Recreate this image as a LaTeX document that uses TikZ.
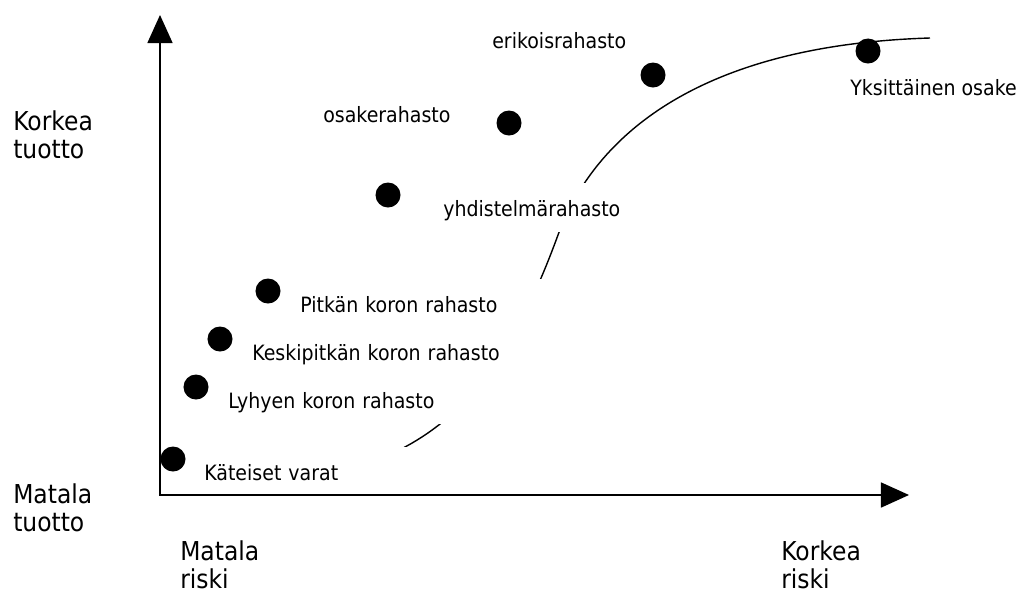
\documentclass[tikz,border=0pt]{standalone}
\usepackage{fontspec}
\setmainfont[FakeStretch=0.9]{DejaVu Sans}
\usetikzlibrary{arrows.meta}
\newcommand{\notefont}{\fontsize{15}{18}\selectfont}
\newcommand{\axisfont}{\fontsize{18.5}{19.9}\selectfont}

\begin{document}
\begin{tikzpicture}[
    x=0.025cm, y=-0.025cm,
    fund/.style={circle, fill=black, minimum size=0.625cm, inner sep=0},
    note/.style={font=\notefont, inner sep=0, anchor=base west},
    notebox/.style={note, fill=white, inner xsep=0.25cm, text height=0.825cm, text depth=0.4cm, align=left},
    axistext/.style={font=\axisfont, inner sep=0, anchor=west, align=left},
    axisline/.style={line width=1.1pt, {Triangle[length=0.7cm, width=0.625cm]}-{Triangle[length=0.7cm, width=0.625cm]}},
    trend/.style={line width=1pt}
  ]
  \useasboundingbox (0,0) rectangle (1022,593);

  \coordinate (origin) at (160,495);
  \coordinate (ytop) at (160,15);
  \coordinate (xend) at (909,495);
  \draw[axisline] (ytop) -- (origin) -- (xend);

  \coordinate (c0) at (388,457);
  \coordinate (c1) at (405,447);
  \coordinate (c2) at (558,235);
  \coordinate (c3) at (930,38);
  \draw[trend] (c0) -- (c1) .. controls (470,412) and (516,350) .. (c2)
    .. controls (595,135) and (700,45) .. (c3);

  \node[notebox, text width=5.275cm, text depth=0.35cm] (cashtext) at (194,480) {Käteiset varat};
  \node[notebox, text width=6.3cm] (shorttext) at (218,408) {Lyhyen koron rahasto};
  \node[notebox, text width=6.575cm] (midtext) at (242,360) {Keskipitkän koron rahasto};
  \node[notebox, text width=5.95cm] (longtext) at (290,312) {Pitkän koron rahasto};
  \node[notebox, text width=4.675cm] (mixedtext) at (433,216) {yhdistelmärahasto};
  \node[note] (equitytext) at (323,122) {osakerahasto};
  \node[note] (specialtext) at (492,48) {erikoisrahasto};
  \node[note] (stocktext) at (850,95) {Yksittäinen osake};

  \node[fund] (cash) at (173,459) {};
  \node[fund] (short) at (196,387) {};
  \node[fund] (mid) at (220,339) {};
  \node[fund] (long) at (268,291) {};
  \node[fund] (mixed) at (388,195) {};
  \node[fund] (equity) at (509,123) {};
  \node[fund] (special) at (653,75) {};
  \node[fund] (stock) at (868,51) {};

  \node[axistext] (highreturn) at (13,135) {Korkea\\tuotto};
  \node[axistext] (lowreturn) at (13,508) {Matala\\tuotto};
  \node[axistext] (lowrisk) at (180,565) {Matala\\riski};
  \node[axistext] (highrisk) at (781,565) {Korkea\\riski};
\end{tikzpicture}
\end{document}
